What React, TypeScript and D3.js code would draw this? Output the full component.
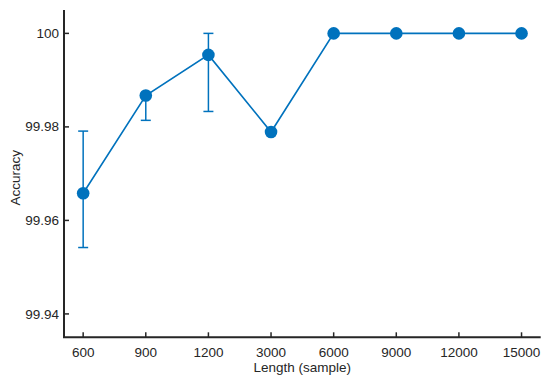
import { line, scaleLinear, scalePoint } from 'd3'

const WIDTH = 550
const HEIGHT = 383
const LEFT = 64
const RIGHT = 540.7
const TOP = 10
const BOTTOM = 337.3
const BLUE = '#0072BD'
const INK = '#262626'
const FONT = '"Liberation Sans", Arial, Helvetica, sans-serif'

const lengths = ['600', '900', '1200', '3000', '6000', '9000', '12000', '15000']
const accuracy = [99.9658, 99.9867, 99.9954, 99.9789, 100, 100, 100, 100]
const errLow = [99.9542, 99.9814, 99.9833, 99.9789, 100, 100, 100, 100]
const errHigh = [99.9791, 99.9867, 100, 99.9789, 100, 100, 100, 100]
const yTicks = [99.94, 99.96, 99.98, 100]

export default function App() {
  const x = scalePoint<string>().domain(lengths).range([LEFT, RIGHT]).padding(0.306)
  const y = scaleLinear().domain([99.935, 100.005]).range([BOTTOM, TOP])

  const path = line<number>()
    .x((_: number, i: number) => x(lengths[i]) ?? 0)
    .y((v) => y(v))

  return (
    <svg
      width={WIDTH}
      height={HEIGHT}
      style={{ position: 'absolute', left: 0, top: 0, background: '#fff' }}
      fontFamily={FONT}
    >
      {/* error bars */}
      {lengths.map((l, i) => {
        if (errLow[i] === errHigh[i]) return null
        const cx = x(l) ?? 0
        return (
          <g key={'e' + l} stroke={BLUE} strokeWidth={1.5} fill="none">
            <line x1={cx} x2={cx} y1={y(errLow[i])} y2={y(errHigh[i])} />
            <line x1={cx - 5} x2={cx + 5} y1={y(errLow[i])} y2={y(errLow[i])} />
            <line x1={cx - 5} x2={cx + 5} y1={y(errHigh[i])} y2={y(errHigh[i])} />
          </g>
        )
      })}
      <path d={path(accuracy) ?? ''} fill="none" stroke={BLUE} strokeWidth={1.6} />
      {accuracy.map((v, i) => (
        <circle key={lengths[i]} cx={x(lengths[i])} cy={y(v)} r={6.3} fill={BLUE} />
      ))}

      {/* axes */}
      <path
        d={`M${LEFT},${TOP}V${BOTTOM}H${RIGHT}`}
        fill="none"
        stroke={INK}
        strokeWidth={2}
      />
      {yTicks.map((t) => (
        <g key={t}>
          <line x1={LEFT} x2={LEFT + 5} y1={y(t)} y2={y(t)} stroke={INK} strokeWidth={1.5} />
          <text x={59} y={y(t) + 4.6} textAnchor="end" fontSize={13.5} fill={INK}>
            {String(t)}
          </text>
        </g>
      ))}
      {lengths.map((l) => (
        <g key={'t' + l}>
          <line x1={x(l)} x2={x(l)} y1={BOTTOM} y2={BOTTOM - 5} stroke={INK} strokeWidth={1.5} />
          <text x={x(l)} y={356.5} textAnchor="middle" fontSize={13.5} fill={INK}>
            {l}
          </text>
        </g>
      ))}
      <text x={(LEFT + RIGHT) / 2} y={372} textAnchor="middle" fontSize={13.5} fill={INK}>
        Length (sample)
      </text>
      <text
        transform={`translate(20, ${(TOP + BOTTOM) / 2 + 4}) rotate(-90)`}
        textAnchor="middle"
        fontSize={13.5}
        fill={INK}
      >
        Accuracy
      </text>
    </svg>
  )
}
